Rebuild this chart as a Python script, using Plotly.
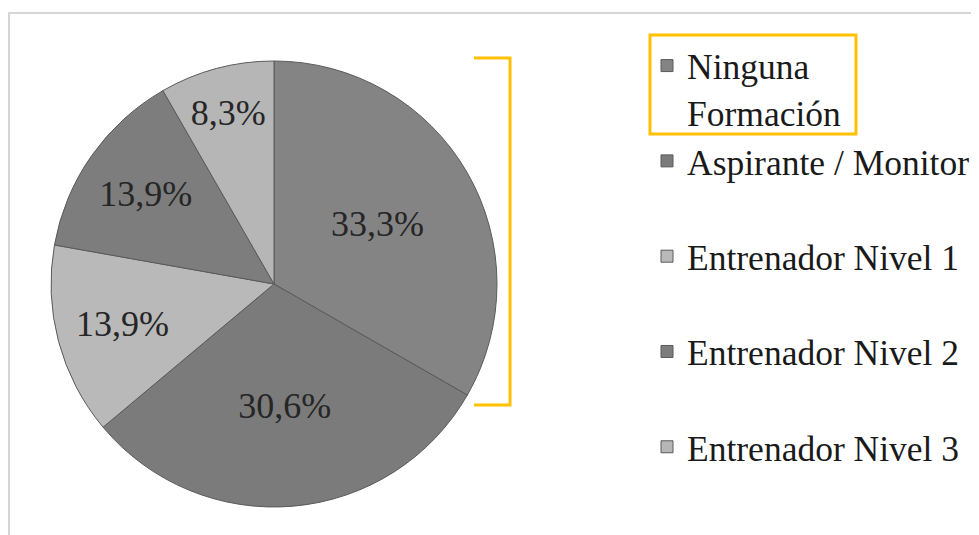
import plotly.graph_objects as go

# data
categories = ["Ninguna Formación", "Aspirante / Monitor", "Entrenador Nivel 1",
              "Entrenador Nivel 2", "Entrenador Nivel 3"]
percentages = [33.3, 30.6, 13.9, 13.9, 8.3]
slice_colors = ["#848484", "#7b7b7b", "#b9b9b9", "#7d7d7d", "#b6b6b6"]

W, H = 979, 535
OFF = 8  # page body margin shifts the figure by this much
FONT = "Liberation Serif"
ORANGE = "#FFC000"


def px(x):
    return (x - OFF) / W


def py(y):
    return 1 - (y - OFF) / H


# legend text: break the first label over two lines, pad the others to keep spacing
legend_labels = []
for name in categories:
    if name == "Ninguna Formación":
        legend_labels.append("Ninguna<br>Formación")
    else:
        legend_labels.append(name + "<br> ")

fig = go.Figure()
fig.add_trace(go.Pie(
    labels=legend_labels,
    values=percentages,
    marker=dict(colors=slice_colors, line=dict(color="#5a5a5a", width=1)),
    sort=False,
    direction="clockwise",
    rotation=0,
    texttemplate="%{value:.1f}%",
    textposition="inside",
    insidetextorientation="horizontal",
    textfont=dict(family=FONT, size=36, color="#262626"),
    domain=dict(x=[px(51), px(497)], y=[py(507), py(61)]),
    hoverinfo="label+value",
))

fig.update_layout(
    width=W, height=H,
    margin=dict(l=0, r=0, t=0, b=0),
    paper_bgcolor="white",
    separators=",.",
    font=dict(family=FONT, size=35.5, color="#1a1a1a"),
    showlegend=True,
    legend=dict(
        x=px(647), y=py(36), xanchor="left", yanchor="top",
        valign="top", itemwidth=30,
        font=dict(family=FONT, size=35.5, color="#1a1a1a"),
        bgcolor="rgba(0,0,0,0)",
    ),
    uniformtext=dict(minsize=36, mode="show"),
)

# faint frame of the original picture
fig.add_shape(type="rect", xref="paper", yref="paper",
              x0=px(9), x1=px(995), y0=py(550), y1=py(13),
              line=dict(color="#d6d6d6", width=2), layer="below")
# orange bracket beside the pie
fig.add_shape(type="path", xref="paper", yref="paper",
              path=f"M {px(474)},{py(58)} L {px(510)},{py(58)} L {px(510)},{py(405)} L {px(474)},{py(405)}",
              line=dict(color=ORANGE, width=3))
# orange box around the first legend entry
fig.add_shape(type="rect", xref="paper", yref="paper",
              x0=px(650), x1=px(856), y0=py(134), y1=py(35),
              line=dict(color=ORANGE, width=3))

fig.write_html("out.html")
